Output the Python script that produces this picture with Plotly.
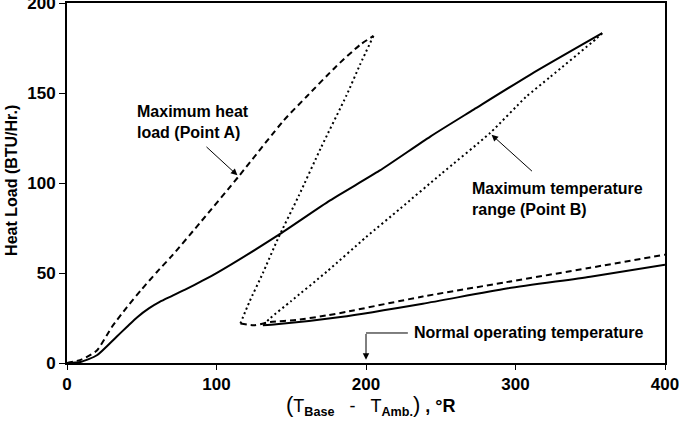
import plotly.graph_objects as go

# ---- data ----
# Point A loop: dashed rise, dotted return, dashed lower branch
a_rise_x = [0, 10, 20, 30, 40, 50, 60, 70, 90, 115, 145, 160, 180, 196, 205]
a_rise_y = [0, 2, 7, 20, 31, 41, 50.5, 59.5, 79, 104, 135, 148, 165, 177, 182]
a_return_x = [205, 196, 187, 170, 155, 141, 131, 122, 116]
a_return_y = [182, 166, 149, 120, 93, 69, 50, 34, 22]
a_low_x = [116, 125, 136, 154, 174, 187, 238, 294, 350, 400]
a_low_y = [22, 21, 22.8, 24, 26.5, 28.5, 37, 45, 53, 60.3]

# Point B loop: solid rise, dotted return, solid lower branch
b_rise_x = [0, 9, 20, 33, 40, 47, 55, 62, 70, 80, 90, 100, 141, 176, 209, 243, 272, 310, 358]
b_rise_y = [0, 0.6, 4.3, 14.5, 20, 25.5, 30.5, 34, 37.2, 41.2, 45.5, 50, 71, 90.5, 107, 126, 141, 160.5, 183.5]
b_return_x = [358, 354, 323, 307, 283, 250, 223, 200, 174, 150, 136, 131]
b_return_y = [183.5, 180.4, 159, 148, 128, 105, 86, 70, 51, 34.5, 25, 21]
b_low_x = [131, 140, 183, 238, 294, 350, 400]
b_low_y = [21, 21.5, 25.6, 33, 41.4, 48, 54.7]

x_ticks = [0, 100, 200, 300, 400]
y_ticks = [0, 50, 100, 150, 200]

FONT = "Liberation Sans, Arial, sans-serif"
BLACK = "#000000"

fig = go.Figure()

def add(x, y, dash):
    fig.add_trace(go.Scatter(x=x, y=y, mode="lines", line_shape="spline",
                             line=dict(color=BLACK, width=2, dash=dash, smoothing=0.6),
                             showlegend=False, hoverinfo="skip"))

add(a_rise_x, a_rise_y, "6px,4px")
add(a_return_x, a_return_y, "2px,3px")
add(a_low_x, a_low_y, "6px,4px")
add(b_rise_x, b_rise_y, "solid")
add(b_return_x, b_return_y, "2px,3px")
add(b_low_x, b_low_y, "solid")

ann_font = dict(family=FONT, size=16, color=BLACK, weight="bold")

annotations = [
    # Point A label + arrow
    dict(x=45.5, y=134.3, xref="x", yref="y", text="Maximum heat<br>load (Point A)",
         showarrow=False, xanchor="left", yanchor="middle", align="left", font=ann_font),
    dict(x=114, y=104.4, ax=92.3, ay=121, xref="x", yref="y", axref="x", ayref="y",
         text="", showarrow=True, arrowhead=2, arrowsize=1.3, arrowwidth=1, arrowcolor=BLACK),
    # Point B label + arrow
    dict(x=269.6, y=91, xref="x", yref="y", text="Maximum temperature<br>range (Point B)",
         showarrow=False, xanchor="left", yanchor="middle", align="left", font=ann_font),
    dict(x=284, y=127, ax=312, ay=106, xref="x", yref="y", axref="x", ayref="y",
         text="", showarrow=True, arrowhead=2, arrowsize=1.3, arrowwidth=1, arrowcolor=BLACK),
    # Normal operating temperature
    dict(x=231, y=16.7, xref="x", yref="y", text="Normal operating temperature",
         showarrow=False, xanchor="left", yanchor="middle", font=ann_font),
    dict(x=200, y=1.8, ax=200, ay=17, xref="x", yref="y", axref="x", ayref="y",
         text="", showarrow=True, arrowhead=2, arrowsize=1.3, arrowwidth=1, arrowcolor=BLACK),
    # Axis titles
    dict(x=-0.094, y=0.508, xref="paper", yref="paper", text="Heat Load (BTU/Hr.)",
         textangle=-90, showarrow=False, xanchor="center", yanchor="middle",
         font=dict(family=FONT, size=16, color=BLACK, weight="bold")),
    dict(x=0.508, y=-0.118, xref="paper", yref="paper",
         text="<span style='font-size:22px'>(</span>T<sub><b>Base</b></sub>&nbsp;&nbsp; - &nbsp;&nbsp;T<sub><b>Amb.</b></sub><span style='font-size:22px'>)</span> <b>,</b> <b>°R</b>",
         showarrow=False, xanchor="center", yanchor="middle",
         font=dict(family=FONT, size=18, color=BLACK)),
]

fig.add_shape(type="line", xref="x", yref="y", x0=200, x1=228, y0=16.7, y1=16.7,
              line=dict(color=BLACK, width=1))

fig.update_layout(
    width=679, height=438,
    margin=dict(l=67, r=14, t=3, b=75, autoexpand=False),
    paper_bgcolor="white", plot_bgcolor="white",
    annotations=annotations,
    xaxis=dict(range=[0, 400], tickvals=x_ticks, ticks="outside", ticklen=5, tickwidth=1,
               tickcolor=BLACK, showgrid=False, zeroline=False, showline=True,
               linecolor=BLACK, linewidth=2, mirror=True, ticklabeloverflow="allow",
               automargin=False,
               tickfont=dict(family=FONT, size=17, color=BLACK, weight="bold")),
    yaxis=dict(range=[0, 200.3], tickvals=y_ticks, ticks="outside", ticklen=6, tickwidth=1,
               tickcolor=BLACK, showgrid=False, zeroline=False, showline=True,
               linecolor=BLACK, linewidth=2, mirror=True, ticklabeloverflow="allow",
               automargin=False,
               tickfont=dict(family=FONT, size=17, color=BLACK, weight="bold")),
)

fig.write_html("out.html")
